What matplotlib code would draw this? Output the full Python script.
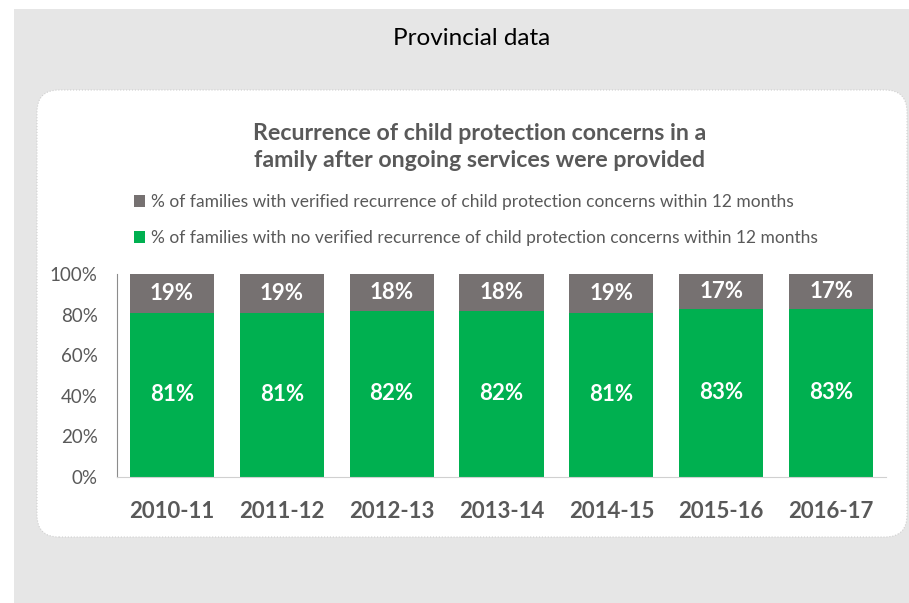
import matplotlib.pyplot as plt
from matplotlib.patches import Rectangle, FancyBboxPatch
from matplotlib.transforms import IdentityTransform

plt.rcParams['font.family'] = ['Lato', 'DejaVu Sans']

# data
years = ['2010-11', '2011-12', '2012-13', '2013-14', '2014-15', '2015-16', '2016-17']
no_recurrence = [81, 81, 82, 82, 81, 83, 83]
recurrence = [19, 19, 18, 18, 19, 17, 17]
label_recur = '% of families with verified recurrence of child protection concerns within 12 months'
label_none = '% of families with no verified recurrence of child protection concerns within 12 months'

green = '#00B050'
grey = '#767171'
txt = '#595959'

fig = plt.figure(figsize=(9.09, 6.03), dpi=100)

# grey page background and white rounded panel (pixel coords)
fig.add_artist(Rectangle((14, 0), 895, 594, transform=IdentityTransform(),
                         facecolor='#e6e6e6', edgecolor='none', zorder=0))
fig.add_artist(FancyBboxPatch((37, 66), 870, 447, boxstyle='round,pad=0,rounding_size=22',
                              transform=IdentityTransform(), facecolor='white',
                              edgecolor='#cfcfcf', linestyle=':', linewidth=0.8, zorder=0))

fig.text(0.519, 0.936, 'Provincial data', ha='center', va='center', fontsize=17.5, color='black')
fig.text(0.528, 0.756, 'Recurrence of child protection concerns in a\nfamily after ongoing services were provided',
         ha='center', va='center', fontsize=16.7, fontweight='bold', color=txt, linespacing=1.38)

ax = fig.add_axes([117 / 909, 1 - 477 / 603, 769 / 909, 203 / 603])
ax.set_facecolor('none')
x = range(len(years))
b1 = ax.bar(x, no_recurrence, width=0.765, color=green, label=label_none)
b2 = ax.bar(x, recurrence, width=0.765, bottom=no_recurrence, color=grey, label=label_recur)

for i in x:
    ax.text(i, no_recurrence[i] / 2, f'{no_recurrence[i]}%', ha='center', va='center',
            color='white', fontsize=16, fontweight='bold')
    ax.text(i, no_recurrence[i] + recurrence[i] / 2, f'{recurrence[i]}%', ha='center', va='center',
            color='white', fontsize=16, fontweight='bold')

ax.set_xlim(-0.5, 6.5)
ax.set_ylim(0, 100)
ax.set_yticks(range(0, 101, 20))
ax.set_yticklabels([f'{v}%' for v in range(0, 101, 20)], fontsize=13.5, color=txt)
ax.set_xticks(list(x))
ax.set_xticklabels(years, fontsize=16, fontweight='bold', color=txt)
ax.tick_params(axis='both', length=0)
ax.tick_params(axis='y', pad=14)
ax.tick_params(axis='x', pad=17)
for s in ['top', 'right']:
    ax.spines[s].set_visible(False)
ax.spines['left'].set_color('#8c8c8c')
ax.spines['bottom'].set_color('#d0d0d0')

leg = fig.legend(handles=[b2, b1], labels=[label_recur, label_none], loc='upper left',
                 bbox_to_anchor=(134 / 909, 1 - 194 / 603), frameon=False, fontsize=12.5,
                 handlelength=0.65, handleheight=0.65, handletextpad=0.35, labelspacing=1.15,
                 borderpad=0, borderaxespad=0)
for t in leg.get_texts():
    t.set_color(txt)

fig.savefig('out.png', dpi=100)
